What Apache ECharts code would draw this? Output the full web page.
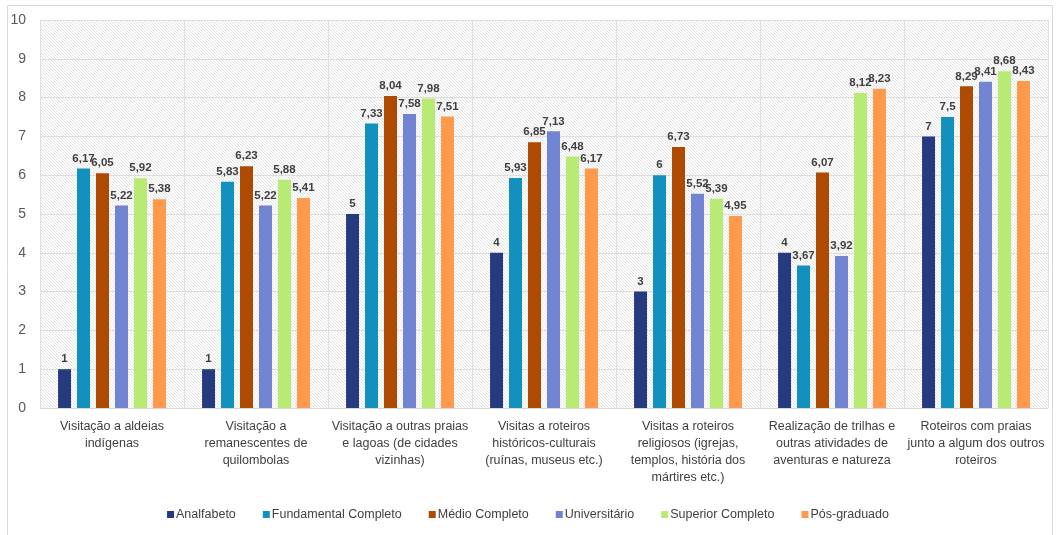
<!DOCTYPE html>
<html>
<head>
<meta charset="utf-8">
<script src="https://cdn.jsdelivr.net/npm/echarts@6/dist/echarts.min.js"></script>
<style>
  html, body { margin: 0; padding: 0; background: #fff; }
  #chart { width: 1056px; height: 535px; }
</style>
</head>
<body>
<div id="chart"></div>
<script>
// Roteiros turísticos: nota média por escolaridade
const categories = [
  'Visitação a aldeias\nindígenas',
  'Visitação a\nremanescentes de\nquilombolas',
  'Visitação a outras praias\ne lagoas (de cidades\nvizinhas)',
  'Visitas a roteiros\nhistóricos-culturais\n(ruínas, museus etc.)',
  'Visitas a roteiros\nreligiosos (igrejas,\ntemplos, história dos\nmártires etc.)',
  'Realização de trilhas e\noutras atividades de\naventuras e natureza',
  'Roteiros com praias\njunto a algum dos outros\nroteiros'
];
const seriesNames = ['Analfabeto', 'Fundamental Completo', 'Médio Completo', 'Universitário', 'Superior Completo', 'Pós-graduado'];
const analfabeto    = [1, 1, 5, 4, 3, 4, 7];
const fundamental   = [6.17, 5.83, 7.33, 5.93, 6, 3.67, 7.5];
const medio         = [6.05, 6.23, 8.04, 6.85, 6.73, 6.07, 8.29];
const universitario = [5.22, 5.22, 7.58, 7.13, 5.52, 3.92, 8.41];
const superior      = [5.92, 5.88, 7.98, 6.48, 5.39, 8.12, 8.68];
const posGraduado   = [5.38, 5.41, 7.51, 6.17, 4.95, 8.23, 8.43];
const yTicks = [0, 1, 2, 3, 4, 5, 6, 7, 8, 9, 10];

const seriesData = [analfabeto, fundamental, medio, universitario, superior, posGraduado];
const colors = ['#263a80', '#1391be', '#ae4a00', '#7084d2', '#b7eb74', '#ff9a4d'];

// diagonal hatch fill for the plot area
function hatchPattern() {
  const c = document.createElement('canvas');
  c.width = 3; c.height = 3;
  const g = c.getContext('2d');
  g.fillStyle = '#ffffff';
  g.fillRect(0, 0, 3, 3);
  g.fillStyle = '#e2e2e2';
  for (let i = 0; i < 3; i++) g.fillRect(i, i, 1, 1);
  return c;
}

const font = '"Liberation Sans Narrow", "Liberation Sans", Arial, sans-serif';
const chart = echarts.init(document.getElementById('chart'), null, { renderer: 'canvas' });

chart.setOption({
  animation: false,
  textStyle: { fontFamily: font },
  graphic: [{
    type: 'rect',
    shape: { x: 7.5, y: 5.5, width: 1045, height: 540 },
    style: { fill: 'none', stroke: '#d9d9d9', lineWidth: 1 },
    silent: true
  }],
  grid: {
    left: 40, right: 8, top: 20, bottom: 127,
    show: true,
    borderWidth: 0,
    backgroundColor: { image: hatchPattern(), repeat: 'repeat' }
  },
  legend: {
    bottom: 9,
    left: 'center',
    itemWidth: 7,
    itemHeight: 7,
    itemGap: 27,
    icon: 'rect',
    textStyle: { fontSize: 12.5, color: '#404040', fontFamily: font, padding: [0, 0, 0, -3] },
    data: seriesNames
  },
  xAxis: {
    type: 'category',
    data: categories,
    axisTick: { show: false },
    axisLine: { lineStyle: { color: '#d9d9d9' } },
    splitLine: { show: true, interval: 0, lineStyle: { color: '#e0e0e0' } },
    axisLabel: {
      interval: 0,
      margin: 10,
      fontSize: 12.5,
      lineHeight: 17,
      color: '#404040',
      fontFamily: font
    }
  },
  yAxis: {
    type: 'value',
    min: yTicks[0],
    max: yTicks[yTicks.length - 1],
    interval: 1,
    axisLine: { show: false },
    axisTick: { show: false },
    splitLine: { lineStyle: { color: '#dedede' } },
    axisLabel: { fontSize: 14, color: '#595959', margin: 14, fontFamily: font }
  },
  series: seriesData.map((d, i) => ({
    name: seriesNames[i],
    type: 'bar',
    data: d,
    barWidth: 13,
    barGap: '46%',
    itemStyle: { color: colors[i] },
    label: {
      show: true,
      position: 'top',
      distance: 4,
      fontSize: 11.5,
      fontWeight: 'bold',
      color: '#404040',
      fontFamily: font,
      formatter: p => String(p.value).replace('.', ',')
    }
  }))
});
</script>
</body>
</html>
